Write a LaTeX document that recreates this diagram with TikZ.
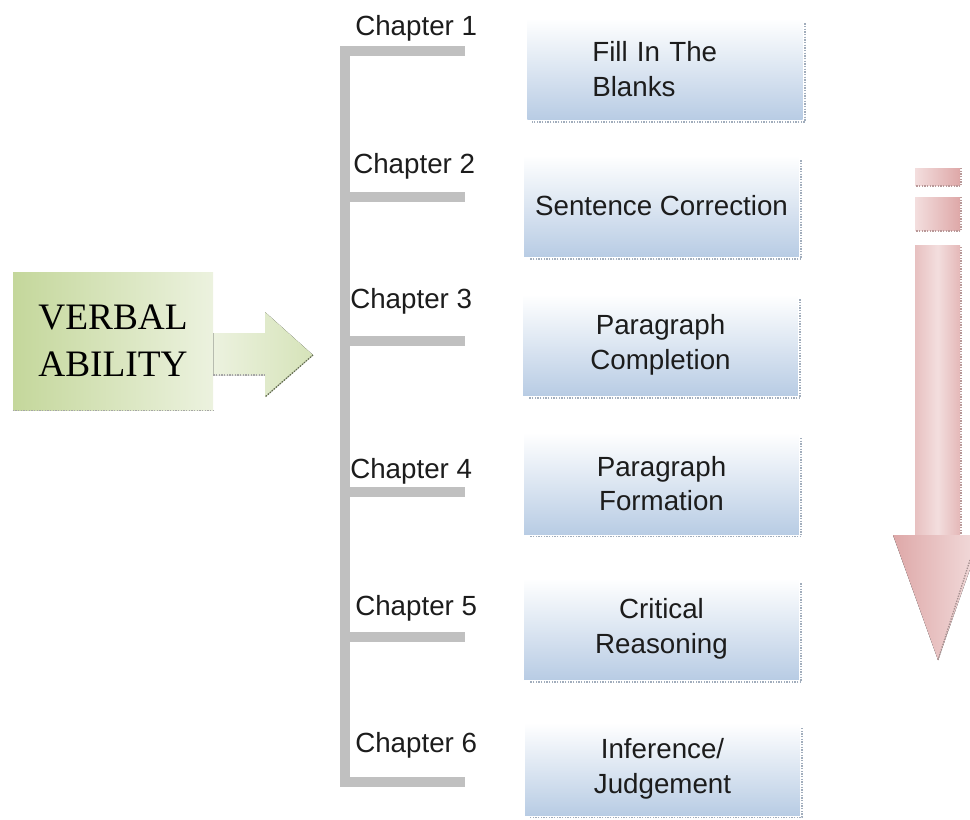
\documentclass[tikz,border=0pt]{standalone}
\usepackage{fontspec}
\setmainfont{Liberation Serif}
\setsansfont{Liberation Sans}
\definecolor{boxblue}{RGB}{184,204,228}
\definecolor{leafgreen}{RGB}{196,215,155}
\definecolor{palegreen}{RGB}{236,242,223}
\definecolor{pinkdark}{RGB}{222,168,168}
\definecolor{pinklight}{RGB}{243,222,222}
\definecolor{bargray}{RGB}{192,192,192}
\definecolor{inkgray}{RGB}{28,28,28}
\tikzset{
  chap/.style={anchor=base west, inner sep=0pt, text=inkgray,
    font=\sffamily\fontsize{20.8}{25}\selectfont},
  topic/.style={minimum width=206pt, minimum height=76pt, top color=white,
    bottom color=boxblue, align=center, text=inkgray,
    font=\sffamily\fontsize{20.8}{26}\selectfont},
  bracket/.style={bargray, line width=7.5pt},
  dots/.style={densely dotted, line width=1pt},
}
\begin{document}
\begin{tikzpicture}[x=0.75pt, y=-0.75pt]
\useasboundingbox (0,0) rectangle (970,819);
\clip (0,0) rectangle (970,819);
% subject box and arrow
\node[left color=leafgreen, right color=palegreen, minimum width=150pt,
  minimum height=103.5pt, align=left, text=black,
  font=\fontsize{28}{35}\selectfont] (verbal) at (113,341) {VERBAL\\ABILITY};
\draw[dots, gray!70] (verbal.south west) -- (verbal.south east);
\fill[left color=palegreen, right color=leafgreen!70] (verbal.east |- 0,333) -- (265,333)
  -- (265,312) -- (313,355) -- (265,397) -- (265,375) -- (verbal.east |- 0,375) -- cycle;
\draw[dots, gray!70] (verbal.east |- 0,375) -- (265,375);
\draw[dots, leafgreen!50!black] (313,355) -- (265,397);
% bracket
\coordinate (top) at (345,46);
\coordinate (bot) at (345,787);
\draw[bracket] (top) -- (bot);
\foreach \i/\y in {1/51,2/197,3/341,4/492,5/637,6/782}{
  \coordinate (s\i) at (465,\y);
  \draw[bracket] (340,\y) -- (s\i);
}
\foreach \i/\x/\y in {1/355/35,2/353/173,3/350/308,4/350/478,5/355/615,6/355/752}
  \node[chap] (c\i) at (\x,\y) {Chapter \i};
% topics
\node[topic, text width=109pt, inner xsep=48.75pt, align=left] (b1) at (665,69) {Fill In The\\Blanks};
\node[topic] (b2) at (661.5,206) {Sentence Correction};
\node[topic] (b3) at (660.5,345) {Paragraph\\Completion};
\node[topic] (b4) at (661.5,483.5) {Paragraph\\Formation};
\node[topic] (b5) at (661.5,629) {Critical\\Reasoning};
\node[topic, minimum height=69pt] (b6) at (662.5,769) {Inference/\\Judgement};
\foreach \b in {b1,b2,b3,b4,b5,b6}
  \draw[dots, boxblue!60!gray] ([xshift=1.5pt,yshift=-4pt]\b.north east)
    -- ([xshift=1.5pt,yshift=-1.5pt]\b.south east) -- ([xshift=4pt,yshift=-1.5pt]\b.south west);
% down arrow
\fill[left color=pinklight, right color=pinkdark] (915,168) rectangle (960,185);
\fill[left color=pinklight, right color=pinkdark] (915,197) rectangle (960,230);
\fill[left color=pinkdark!55!pinklight, right color=pinkdark!70!pinklight, middle color=pinklight]
  (915,245) rectangle (960,535);
\fill[left color=pinkdark, right color=pinklight] (893,535) -- (982,535) -- (938,660) -- cycle;
\draw[dots, pinkdark!60!gray] (961,168) -- (961,186) -- (915,186);
\draw[dots, pinkdark!60!gray] (961,197) -- (961,231) -- (915,231);
\draw[dots, pinkdark!60!gray] (961,247) -- (961,535);
\draw[dots, pinkdark!40!gray] (970,560) -- (938,660);
\end{tikzpicture}
\end{document}
